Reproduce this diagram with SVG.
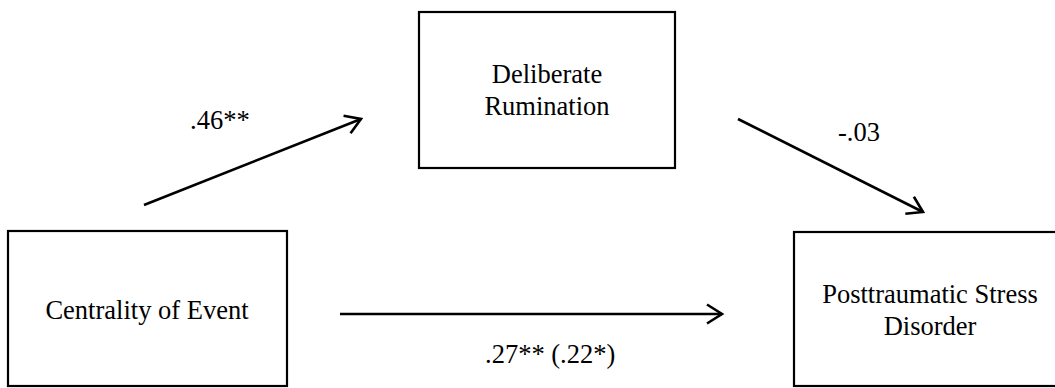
<svg xmlns="http://www.w3.org/2000/svg" width="1055" height="388" viewBox="0 0 1055 388">
  <style>
    .box { fill: #ffffff; stroke: #000000; stroke-width: 2.2; }
    .label { font-family: "Liberation Serif", "Times New Roman", serif; font-size: 26.5px; fill: #000000; }
    .mid { text-anchor: middle; }
    .edge { stroke: #000000; stroke-width: 2.6; fill: none; marker-end: url(#chevron); }
  </style>
  <defs>
    <marker id="chevron" markerUnits="userSpaceOnUse" markerWidth="24" markerHeight="24" viewBox="-18 -12 20 24" refX="0" refY="0" orient="auto">
      <path d="M -15 -9.5 L 0 0 L -15 9.5" fill="none" stroke="#000000" stroke-width="2.6"/>
    </marker>
  </defs>
  <rect width="1055" height="388" fill="#ffffff"/>

  <g id="node-centrality">
    <rect class="box" x="8" y="231" width="279" height="155"/>
    <text class="label mid" x="147" y="319">Centrality of Event</text>
  </g>

  <g id="node-rumination">
    <rect class="box" x="419" y="12" width="256" height="156"/>
    <text class="label mid" x="547" y="83">Deliberate</text>
    <text class="label mid" x="547" y="115">Rumination</text>
  </g>

  <g id="node-ptsd">
    <rect class="box" x="794" y="232" width="272" height="154"/>
    <text class="label mid" x="930" y="303">Posttraumatic Stress</text>
    <text class="label mid" x="930" y="335">Disorder</text>
  </g>

  <g id="connectors">
    <line class="edge" x1="144" y1="205" x2="361" y2="119"/>
    <line class="edge" x1="738" y1="119" x2="923" y2="212"/>
    <line class="edge" x1="340" y1="314" x2="722" y2="314"/>
    <text class="label" x="190" y="129">.46**</text>
    <text class="label" x="838" y="141">-.03</text>
    <text class="label" x="485" y="363">.27** (.22*)</text>
  </g>
</svg>
